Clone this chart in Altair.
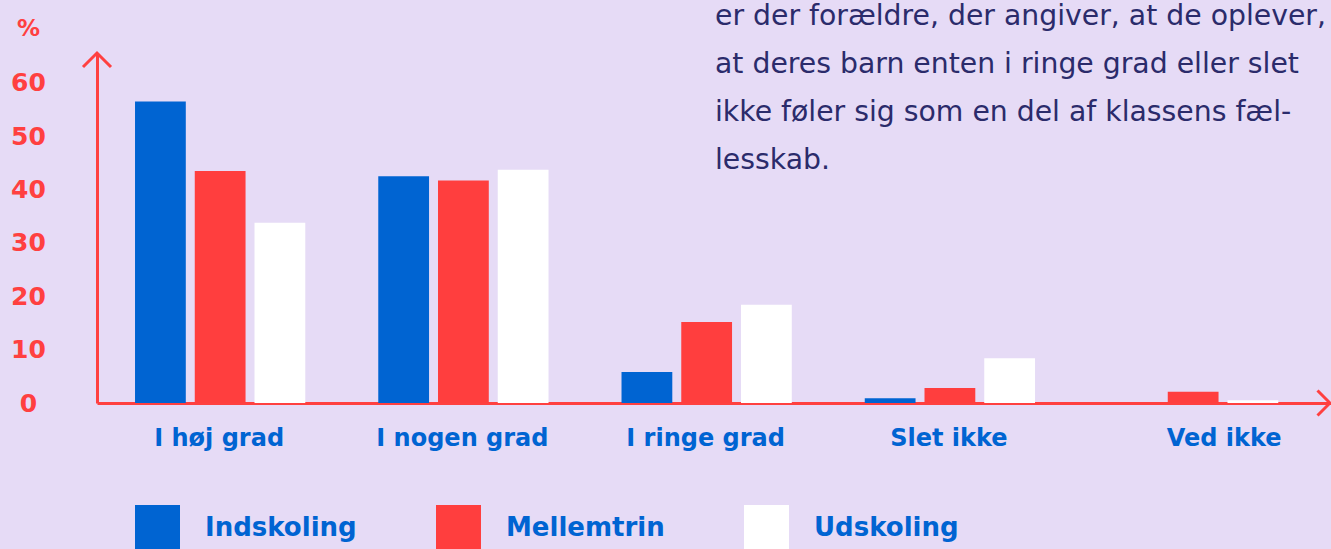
import altair as alt
import pandas as pd

categories = ["I høj grad", "I nogen grad", "I ringe grad", "Slet ikke", "Ved ikke"]
groups = ["Indskoling", "Mellemtrin", "Udskoling"]
indskoling = [56.5, 42.5, 5.8, 0.9, 0.0]
mellemtrin = [43.5, 41.7, 15.2, 2.8, 2.1]
udskoling = [33.8, 43.7, 18.4, 8.4, 0.5]
colors = ["#0064d2", "#ff3e3e", "#ffffff"]
note_lines = [
    "er der forældre, der angiver, at de oplever,",
    "at deres barn enten i ringe grad eller slet",
    "ikke føler sig som en del af klassens fæl-",
    "lesskab.",
]

rows = []
for g, vals in zip(groups, [indskoling, mellemtrin, udskoling]):
    for c, v in zip(categories, vals):
        rows.append({"kategori": c, "gruppe": g, "pct": v})
df = pd.DataFrame(rows)

W, H = 1234, 350
RED = "#ff4040"
BLUE = "#0064d2"
BOLD_FONT = "DejaVu Sans"
TEXT_FONT = "DejaVu Sans"

bars = alt.Chart(df).mark_bar().encode(
    x=alt.X(
        "kategori:N",
        sort=categories,
        scale=alt.Scale(paddingInner=0.3, paddingOuter=0.1865, align=0.419),
        axis=alt.Axis(
            title=None,
            labelAngle=0,
            labelFont=BOLD_FONT,
            labelFontWeight="bold",
            labelFontSize=24,
            labelColor=BLUE,
            labelPadding=35,
            labelBaseline="middle",
            labelOffset={"condition": {"test": "datum.value === 'Ved ikke'", "value": 31}, "value": -1},
            ticks=False,
            domainColor=RED,
            domainWidth=3,
            labelLimit=400,
        ),
    ),
    xOffset=alt.XOffset("gruppe:N", sort=groups, scale=alt.Scale(paddingInner=0.15, paddingOuter=0)),
    y=alt.Y(
        "pct:Q",
        scale=alt.Scale(domain=[0, 65.6], nice=False, zero=True),
        axis=alt.Axis(
            title="%",
            titleAngle=0,
            titleX=-69,
            titleY=-25,
            titleAlign="center",
            titleBaseline="middle",
            titleFont=BOLD_FONT,
            titleFontWeight="bold",
            titleFontSize=23,
            titleColor=RED,
            values=[0, 10, 20, 30, 40, 50, 60],
            labelFont=BOLD_FONT,
            labelFontWeight="bold",
            labelFontSize=25,
            labelColor=RED,
            labelAlign="center",
            labelBaseline="middle",
            labelPadding=69,
            ticks=False,
            grid=False,
            domainColor=RED,
            domainWidth=3,
        ),
    ),
    color=alt.Color(
        "gruppe:N",
        sort=groups,
        scale=alt.Scale(domain=groups, range=colors),
        legend=alt.Legend(
            title=None,
            orient="none",
            legendX=38,
            legendY=452,
            direction="horizontal",
            columns=3,
            symbolType="square",
            symbolSize=2025,
            symbolStrokeWidth=0,
            symbolOpacity=1,
            labelFont=BOLD_FONT,
            labelFontWeight="bold",
            labelFontSize=26,
            labelColor=BLUE,
            labelOffset=25,
            columnPadding=79,
            labelLimit=400,
        ),
    ),
)

anchor = pd.DataFrame({"a": [0]})
up_arrow = alt.Chart(anchor).mark_point(
    shape="M-1,1L0,0L1,1", size=784, filled=False, stroke=RED, strokeWidth=3, opacity=1
).encode(x=alt.value(0), y=alt.value(0))
right_arrow = alt.Chart(anchor).mark_point(
    shape="M-1,-1L0,0L-1,1", size=625, filled=False, stroke=RED, strokeWidth=3, opacity=1
).encode(x=alt.value(W - 1), y=alt.value(H))

note = alt.Chart(pd.DataFrame({"t": ["\n".join(note_lines)]})).mark_text(
    align="left",
    baseline="alphabetic",
    lineBreak="\n",
    lineHeight=48,
    font=TEXT_FONT,
    fontSize=28.3,
    color="#2b2b6b",
).encode(x=alt.value(618), y=alt.value(-28), text="t:N")

chart = (
    alt.layer(bars, up_arrow, right_arrow, note)
    .properties(
        width=W,
        height=H,
        background="#e6dbf6",
        padding={"left": 97, "top": 53, "right": 0, "bottom": 146},
        autosize=alt.AutoSizeParams(type="none"),
    )
    .configure_view(stroke=None)
)

chart.save("out.html", embed_options={"renderer": "svg", "actions": False})
